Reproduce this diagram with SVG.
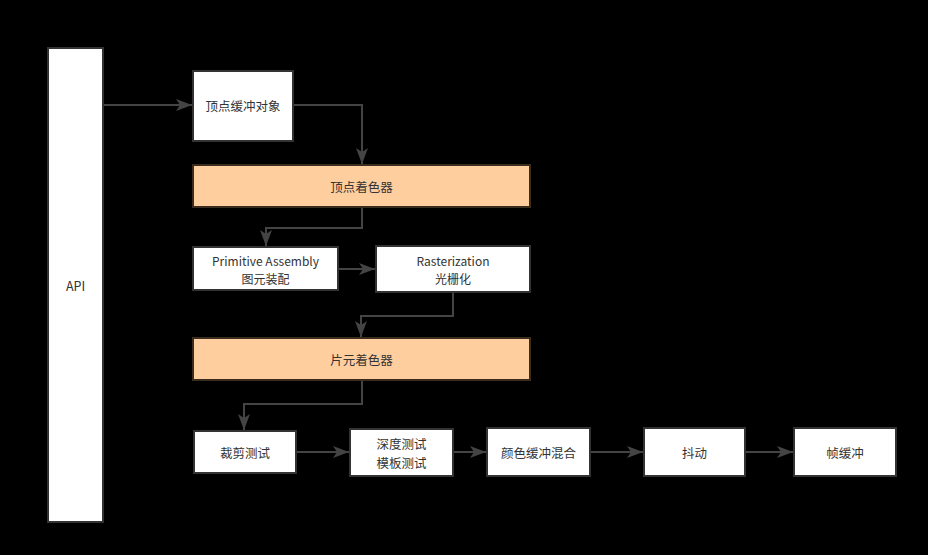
<svg xmlns="http://www.w3.org/2000/svg" width="928" height="555" viewBox="0 0 928 555">
<defs>
<marker id="ah" markerUnits="userSpaceOnUse" markerWidth="18" markerHeight="12" refX="16" refY="6" orient="auto">
<path d="M0,0 L16,6 L0,12 L4,6 Z" fill="#444"/>
</marker>
<style>
.n{fill:#fff;stroke:#333;stroke-width:2}
.o{fill:#ffce9f;stroke:#3a2c1e;stroke-width:2}
.t{font-family:"Noto Sans CJK SC","Noto Sans",sans-serif;font-size:12.5px;fill:#333;text-anchor:middle;dominant-baseline:central}
.s{font-size:12px}
.c{fill:none;stroke:#444;stroke-width:2;marker-end:url(#ah)}
</style>
</defs>
<rect width="928" height="555" fill="#000"/>
<g id="connectors">
<path class="c" d="M103,105 H192"/>
<path class="c" d="M293,105 H362 V164"/>
<path class="c" d="M362,207 V228 H266 V246"/>
<path class="c" d="M338,269 H375"/>
<path class="c" d="M453,292 V316 H361 V337"/>
<path class="c" d="M362,380 V404 H244 V430"/>
<path class="c" d="M296,452 H349"/>
<path class="c" d="M453,452 H486"/>
<path class="c" d="M590,452 H643"/>
<path class="c" d="M745,452 H793"/>
</g>
<g id="api"><rect class="n" x="48" y="48" width="55" height="474"/><text class="t" x="75.5" y="285">API</text></g>
<g id="vbo"><rect class="n" x="193" y="71" width="100" height="70"/><text class="t" x="243" y="105">顶点缓冲对象</text></g>
<g id="vs"><rect class="o" x="193" y="165" width="337" height="42"/><text class="t" x="361.5" y="186">顶点着色器</text></g>
<g id="pa"><rect class="n" x="193" y="247" width="145" height="43"/><text class="t s" x="265.5" y="260">Primitive Assembly</text><text class="t s" x="265.5" y="278">图元装配</text></g>
<g id="ras"><rect class="n" x="376" y="246" width="154" height="46"/><text class="t s" x="453" y="260">Rasterization</text><text class="t s" x="453" y="278">光栅化</text></g>
<g id="fs"><rect class="o" x="193" y="338" width="337" height="42"/><text class="t" x="361.5" y="359">片元着色器</text></g>
<g id="clip"><rect class="n" x="194" y="431" width="102" height="42"/><text class="t" x="245" y="452">裁剪测试</text></g>
<g id="depth"><rect class="n" x="350" y="429" width="103" height="47"/><text class="t" x="401.5" y="443">深度测试</text><text class="t" x="401.5" y="462">模板测试</text></g>
<g id="blend"><rect class="n" x="487" y="428" width="103" height="48"/><text class="t" x="538.5" y="452">颜色缓冲混合</text></g>
<g id="dither"><rect class="n" x="644" y="428" width="101" height="48"/><text class="t" x="694.5" y="452">抖动</text></g>
<g id="fb"><rect class="n" x="794" y="428" width="102" height="48"/><text class="t" x="845" y="452">帧缓冲</text></g>
</svg>
